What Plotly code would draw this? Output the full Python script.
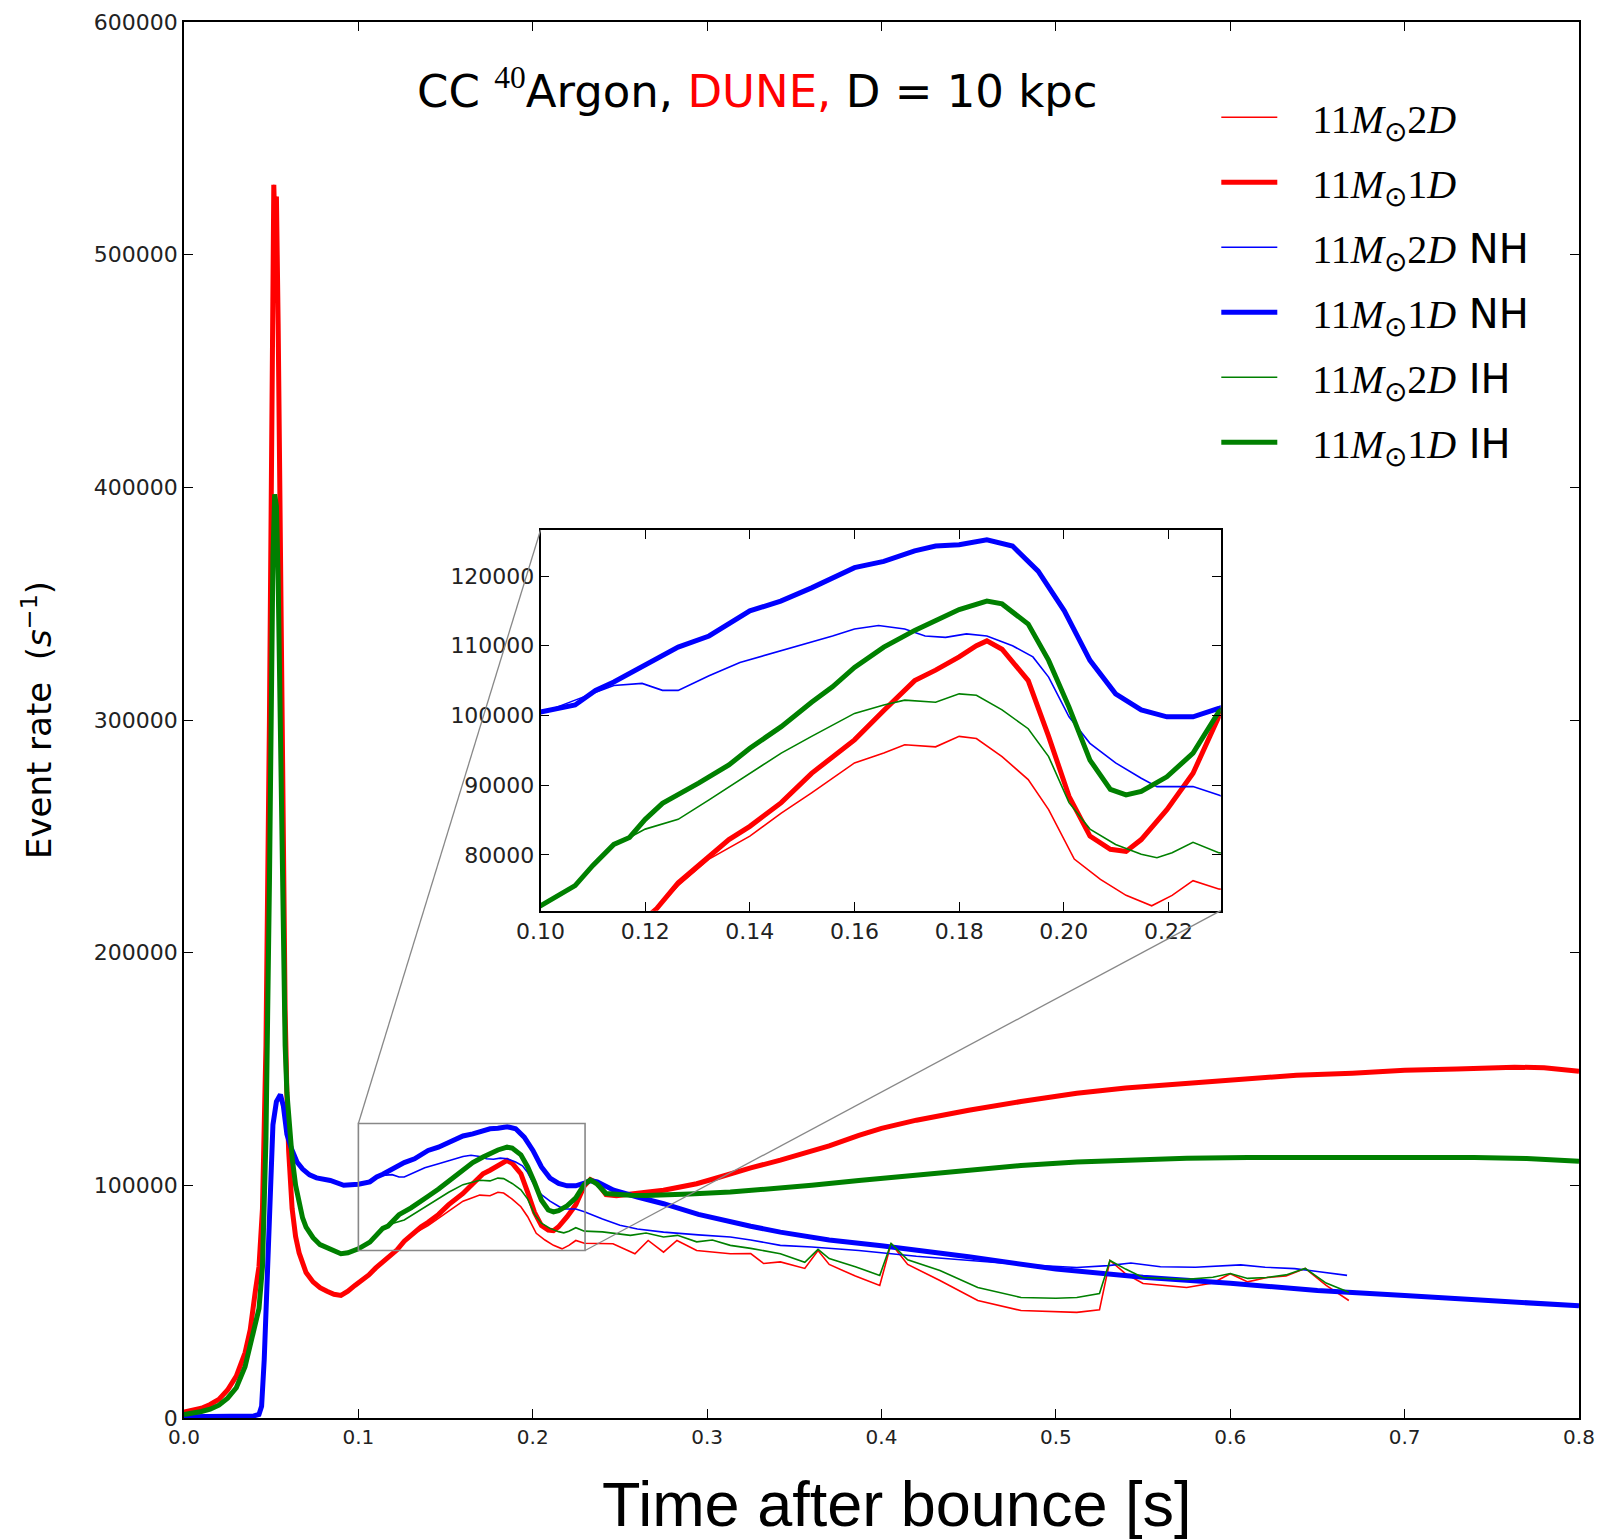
import plotly.graph_objects as go

# ---------------- data ----------------
t_red_1d = [0.000, 0.005, 0.010, 0.015, 0.020, 0.025, 0.030, 0.035, 0.038, 0.041, 0.043, 0.045, 0.047,
            0.049, 0.050, 0.051, 0.0515, 0.052, 0.053, 0.054, 0.055, 0.056, 0.057, 0.058, 0.059, 0.060,
            0.062, 0.064, 0.066, 0.068, 0.070, 0.074, 0.078, 0.082, 0.086, 0.090, 0.094, 0.098, 0.102,
            0.106, 0.110, 0.114, 0.118, 0.1222, 0.1263, 0.1322, 0.136, 0.140, 0.146, 0.1518, 0.1558,
            0.160, 0.1656, 0.1715, 0.1755, 0.180, 0.1833, 0.1853, 0.1882, 0.1932, 0.1971, 0.201, 0.205,
            0.2089, 0.2119, 0.2148, 0.2197, 0.2247, 0.2296, 0.233, 0.237, 0.242, 0.248, 0.256, 0.265,
            0.275, 0.285, 0.294, 0.303, 0.313, 0.325, 0.342, 0.356, 0.370, 0.387, 0.400, 0.420, 0.450,
            0.480, 0.512, 0.540, 0.575, 0.600, 0.638, 0.670, 0.700, 0.730, 0.763, 0.780, 0.800]
red_1d = [2500, 3200, 4200, 5800, 8000, 12000, 18000, 28000, 38000, 55000, 65000, 90000, 160000,
          300000, 420000, 510000, 530000, 515000, 525000, 470000, 380000, 300000, 230000, 175000, 140000, 115000,
          90000, 78000, 71000, 66000, 62500, 58500, 56000, 54500, 53200, 52700, 54500, 57000, 59000,
          61500, 64500, 67000, 69500, 72300, 76000, 79900, 82200, 84100, 87500, 91700, 94100,
          96500, 100700, 105000, 106500, 108400, 110000, 110700, 109500, 105000, 97000, 88400, 82700,
          80800, 80500, 82200, 86500, 91700, 99800, 102500, 101000, 96000, 95500, 96400, 97000,
          97900, 99200, 100700, 102600, 105000, 107500, 110800, 114000, 117000, 121500, 124500, 128000, 132300,
          136000, 139600, 141800, 143900, 145500, 147300, 148200, 149500, 150000, 150800, 150500, 149000]

t_red_2d = [0.000, 0.005, 0.010, 0.015, 0.020, 0.025, 0.030, 0.035, 0.038, 0.041, 0.043, 0.045, 0.047,
            0.049, 0.050, 0.051, 0.0515, 0.052, 0.053, 0.054, 0.055, 0.056, 0.057, 0.058, 0.059, 0.060,
            0.062, 0.064, 0.066, 0.068, 0.070, 0.074, 0.078, 0.082, 0.086, 0.090, 0.094, 0.098, 0.102,
            0.106, 0.110, 0.114, 0.118, 0.1222, 0.1263, 0.1322, 0.140, 0.146, 0.1518, 0.160, 0.1656,
            0.1696, 0.1755, 0.180, 0.1833, 0.1882, 0.1932, 0.1971, 0.202, 0.207, 0.2119, 0.2168, 0.2207,
            0.2247, 0.2296, 0.246, 0.2586, 0.2662, 0.275, 0.2827, 0.294, 0.3133, 0.325, 0.3324, 0.342,
            0.356, 0.3636, 0.370, 0.385, 0.399, 0.4055, 0.415, 0.4335, 0.4552, 0.480, 0.500, 0.512,
            0.525, 0.531, 0.540, 0.550, 0.575, 0.590, 0.600, 0.610, 0.621, 0.632, 0.643, 0.655, 0.668]
red_2d = [2500, 3200, 4200, 5800, 8000, 12000, 18000, 28000, 38000, 55000, 65000, 90000, 160000,
          300000, 420000, 510000, 530000, 515000, 525000, 470000, 380000, 300000, 230000, 175000, 140000, 115000,
          90000, 78000, 71000, 66000, 62500, 58500, 56000, 54500, 53200, 52700, 54500, 57000, 59000,
          61500, 64500, 67000, 69500, 72300, 75600, 79400, 82700, 86000, 88900, 93200, 94600,
          95800, 95500, 97000, 96700, 94100, 90800, 86500, 79400, 76500, 74200, 72700, 74200,
          76300, 75100, 74900, 70600, 76300, 71300, 76300, 72000, 70600, 70700, 66400, 67100,
          64300, 72000, 66000, 61000, 57000, 75000, 66000, 59100, 50500, 46200, 45500, 45400,
          46500, 67700, 62000, 57800, 56100, 58000, 62000, 58500, 60400, 61000, 64300, 57000, 50500]

t_blue_1d = [0.000, 0.010, 0.020, 0.030, 0.040, 0.043, 0.0445, 0.046, 0.0476, 0.049, 0.051, 0.053, 0.0553,
             0.057, 0.059, 0.0617, 0.0648, 0.068, 0.072, 0.076, 0.080, 0.0839, 0.0916, 0.096, 0.100,
             0.1066, 0.1105, 0.114, 0.120, 0.1263, 0.1322, 0.140, 0.1459, 0.1518, 0.160, 0.1656, 0.1715,
             0.1755, 0.180, 0.1853, 0.1902, 0.1951, 0.2001, 0.205, 0.2099, 0.2148, 0.2197, 0.2247, 0.2296,
             0.233, 0.237, 0.2464, 0.260, 0.275, 0.295, 0.3133, 0.325, 0.342, 0.370, 0.400, 0.450, 0.500,
             0.550, 0.600, 0.650, 0.700, 0.750, 0.800]
blue_1d = [500, 500, 600, 700, 900, 1500, 5000, 25000, 56000, 90000, 126000, 136000, 139000,
           134000, 122000, 115600, 110000, 107000, 104500, 103200, 102700, 102100, 100000, 100200, 100500,
           101500, 103600, 104800, 107200, 109800, 111400, 115000, 116400, 118300, 121200, 122100, 123600,
           124300, 124500, 125200, 124300, 120700, 115000, 107900, 103100, 100800, 99800, 99800, 101000,
           102000, 101500, 97900, 95000, 92100, 87500, 84200, 82400, 79900, 76500, 74000, 69300, 64000,
           60500, 57900, 54800, 52600, 50400, 48200]

t_blue_2d = [0.000, 0.010, 0.020, 0.030, 0.040, 0.043, 0.0445, 0.046, 0.0476, 0.049, 0.051, 0.053, 0.0553,
             0.057, 0.059, 0.0617, 0.0648, 0.068, 0.072, 0.076, 0.080, 0.0839, 0.0916, 0.100, 0.1066,
             0.114, 0.1194, 0.1233, 0.1263, 0.1322, 0.1381, 0.146, 0.1518, 0.1558, 0.160, 0.1646, 0.1696,
             0.1735, 0.1774, 0.1814, 0.1853, 0.1902, 0.1941, 0.1971, 0.201, 0.205, 0.2099, 0.2148, 0.2178,
             0.2247, 0.2296, 0.240, 0.250, 0.260, 0.275, 0.295, 0.3133, 0.325, 0.342, 0.360, 0.387, 0.420,
             0.450, 0.480, 0.512, 0.530, 0.543, 0.560, 0.580, 0.595, 0.606, 0.620, 0.637, 0.650, 0.667]
blue_2d = [500, 500, 600, 700, 900, 1500, 5000, 25000, 56000, 90000, 126000, 136000, 139000,
           134000, 122000, 115600, 110000, 107000, 104500, 103200, 102700, 102100, 100000, 100300, 102200,
           104300, 104600, 103600, 103600, 105700, 107600, 109300, 110500, 111400, 112400, 112900, 112400,
           111400, 111200, 111700, 111400, 110000, 108400, 105500, 99800, 96000, 93200, 91000, 89800,
           89800, 88600, 85500, 82800, 81200, 79900, 78700, 77800, 76500, 74200, 73500, 72000, 69500,
           67700, 66000, 64700, 65500, 66600, 65000, 64800, 65200, 65800, 64800, 64200, 63000, 61300]

t_green_1d = [0.000, 0.005, 0.010, 0.015, 0.020, 0.025, 0.030, 0.035, 0.038, 0.041, 0.043, 0.045, 0.047,
              0.049, 0.050, 0.051, 0.052, 0.053, 0.054, 0.055, 0.056, 0.057, 0.058, 0.059, 0.060, 0.062,
              0.064, 0.066, 0.068, 0.070, 0.074, 0.078, 0.082, 0.086, 0.090, 0.094, 0.098, 0.100, 0.1066,
              0.110, 0.114, 0.117, 0.120, 0.1233, 0.1302, 0.136, 0.140, 0.146, 0.1518, 0.1558, 0.160,
              0.1656, 0.1715, 0.1755, 0.180, 0.1853, 0.1882, 0.1932, 0.1971, 0.201, 0.205, 0.2089, 0.2119,
              0.2148, 0.2197, 0.2247, 0.2296, 0.233, 0.237, 0.242, 0.250, 0.256, 0.265, 0.275, 0.290,
              0.3133, 0.325, 0.342, 0.360, 0.387, 0.420, 0.450, 0.480, 0.512, 0.545, 0.575, 0.610, 0.638,
              0.670, 0.700, 0.740, 0.770, 0.800]
green_1d = [1500, 2000, 2800, 3800, 5500, 8500, 13000, 22000, 32000, 42000, 47000, 65000, 120000,
            230000, 310000, 370000, 397000, 392000, 360000, 300000, 240000, 190000, 160000, 140000, 128000, 112000,
            100000, 92000, 86000, 82000, 77500, 74500, 73000, 71500, 70600, 71000, 72000, 72700, 75600,
            78500, 81500, 82500, 85100, 87400, 90300, 92900, 95300, 98400, 101900, 104100, 106900,
            109800, 112200, 113600, 115200, 116400, 116000, 113100, 107900, 101200, 93600, 89400, 88600,
            89100, 91200, 94600, 100500, 102300, 100500, 96500, 95800, 95700, 95600, 95700, 96300,
            97100, 97800, 98600, 100000, 102100, 104500, 106500, 108500, 110000, 111000, 111600, 112000, 112000,
            112300, 112000, 112000, 111500, 110300]

t_green_2d = [0.000, 0.005, 0.010, 0.015, 0.020, 0.025, 0.030, 0.035, 0.038, 0.041, 0.043, 0.045, 0.047,
              0.049, 0.050, 0.051, 0.052, 0.053, 0.054, 0.055, 0.056, 0.057, 0.058, 0.059, 0.060, 0.062,
              0.064, 0.066, 0.068, 0.070, 0.074, 0.078, 0.082, 0.086, 0.090, 0.094, 0.098, 0.100, 0.1066,
              0.110, 0.114, 0.117, 0.120, 0.1263, 0.1322, 0.140, 0.146, 0.1518, 0.160, 0.1656, 0.1696,
              0.1755, 0.180, 0.1833, 0.1882, 0.1932, 0.1971, 0.201, 0.205, 0.2099, 0.2148, 0.2178, 0.2207,
              0.2247, 0.2296, 0.240, 0.256, 0.265, 0.275, 0.283, 0.294, 0.303, 0.3133, 0.325, 0.342,
              0.356, 0.3636, 0.370, 0.385, 0.399, 0.4055, 0.415, 0.4335, 0.4552, 0.480, 0.500, 0.512,
              0.525, 0.531, 0.540, 0.550, 0.575, 0.590, 0.600, 0.610, 0.621, 0.632, 0.643, 0.655, 0.668]
green_2d = [1500, 2000, 2800, 3800, 5500, 8500, 13000, 22000, 32000, 42000, 47000, 65000, 120000,
            230000, 310000, 370000, 397000, 392000, 360000, 300000, 240000, 190000, 160000, 140000, 128000, 112000,
            100000, 92000, 86000, 82000, 77500, 74500, 73000, 71500, 70600, 71000, 72000, 72700, 75600,
            78500, 81500, 82500, 83700, 85100, 87900, 91700, 94600, 97000, 100300, 101500, 102200,
            101900, 103100, 102900, 100800, 98100, 94100, 87500, 83700, 81500, 80100, 79600, 80300,
            81800, 80300, 80000, 78500, 79500, 77800, 78500, 75700, 76500, 74200, 72900, 70600,
            66900, 72500, 68500, 65000, 61300, 75000, 68000, 63400, 56100, 51800, 51500, 51800,
            53500, 67700, 64000, 60400, 59600, 60500, 62100, 60000, 60400, 61500, 64300, 58000, 54000]

NB = "\u00a0\u00a0\u00a0"
series_names = [NB + "11<i>M</i><sub>⊙</sub>2<i>D</i>",
                NB + "11<i>M</i><sub>⊙</sub>1<i>D</i>",
                NB + "11<i>M</i><sub>⊙</sub>2<i>D</i><span style='font-family:DejaVu Sans'> NH</span>",
                NB + "11<i>M</i><sub>⊙</sub>1<i>D</i><span style='font-family:DejaVu Sans'> NH</span>",
                NB + "11<i>M</i><sub>⊙</sub>2<i>D</i><span style='font-family:DejaVu Sans'> IH</span>",
                NB + "11<i>M</i><sub>⊙</sub>1<i>D</i><span style='font-family:DejaVu Sans'> IH</span>"]
x_ticks_main = [0.0, 0.1, 0.2, 0.3, 0.4, 0.5, 0.6, 0.7, 0.8]
y_ticks_main = [0, 100000, 200000, 300000, 400000, 500000, 600000]
x_ticks_inset = [0.10, 0.12, 0.14, 0.16, 0.18, 0.20, 0.22]
y_ticks_inset = [80000, 90000, 100000, 110000, 120000]

# ---------------- styling / layout ----------------
RED, BLUE, GREEN = "#ff0000", "#0000ff", "#008000"
THIN, THICK = 1.6, 5

main_xr = [0, 0.8]
main_yr = [0, 600000]
ins_xr = [0.10, 0.23]
ins_yr = [72000, 126600]
ins_dom_x = [0.2556, 0.7432]
ins_dom_y = [0.3634, 0.6361]

series = [
    (t_red_2d, red_2d, RED, THIN),
    (t_red_1d, red_1d, RED, THICK),
    (t_blue_2d, blue_2d, BLUE, THIN),
    (t_blue_1d, blue_1d, BLUE, THICK),
    (t_green_2d, green_2d, GREEN, THIN),
    (t_green_1d, green_1d, GREEN, THICK),
]

fig = go.Figure()
for i, (tt, vv, col, w) in enumerate(series):
    fig.add_trace(go.Scatter(x=tt, y=vv, mode="lines", name=series_names[i],
                             line=dict(color=col, width=w), legendgroup=f"g{i}",
                             xaxis="x", yaxis="y"))
for i, (tt, vv, col, w) in enumerate(series):
    fig.add_trace(go.Scatter(x=tt, y=vv, mode="lines", name=series_names[i],
                             line=dict(color=col, width=w), legendgroup=f"g{i}",
                             showlegend=False, xaxis="x2", yaxis="y2"))

axis_common = dict(showline=True, linecolor="black", linewidth=1.6, mirror="ticks",
                   ticks="inside", ticklen=9, tickcolor="black", tickwidth=1,
                   showgrid=False, zeroline=False, automargin=False)

fig.update_layout(
    width=1599, height=1539,
    margin=dict(l=184, r=20, t=22, b=121, autoexpand=False),
    paper_bgcolor="white", plot_bgcolor="white",
    xaxis=dict(range=main_xr, domain=[0, 1], tickvals=x_ticks_main, tickformat=".1f",
               tickfont=dict(family="DejaVu Sans", size=20, color="#222"),
               **axis_common),
    yaxis=dict(range=main_yr, domain=[0, 1], tickvals=y_ticks_main, tickformat="d",
               tickfont=dict(family="DejaVu Sans", size=22, color="#222"),
               title=dict(text="Event rate  (<i>s</i><sup>−1</sup>)",
                          font=dict(family="DejaVu Sans", size=34, color="black"),
                          standoff=32),
               **axis_common),
    xaxis2=dict(range=ins_xr, domain=ins_dom_x, anchor="y2", tickvals=x_ticks_inset, tickformat=".2f",
                tickfont=dict(family="DejaVu Sans", size=22, color="#222"), **axis_common),
    yaxis2=dict(range=ins_yr, domain=ins_dom_y, anchor="x2", tickvals=y_ticks_inset, tickformat="d",
                tickfont=dict(family="DejaVu Sans", size=22, color="#222"), **axis_common),
    legend=dict(x=0.740, y=0.955, xanchor="left", yanchor="top",
                bgcolor="rgba(0,0,0,0)", borderwidth=0,
                font=dict(family="Liberation Serif", size=40, color="black"),
                tracegroupgap=10, itemwidth=56),
    showlegend=True,
)

# x-axis title (placed as in the reference, slightly right of centre)
fig.add_annotation(x=0.511, y=-0.0616, xref="paper", yref="paper", showarrow=False,
                   text="Time after bounce [s]", xanchor="center", yanchor="middle",
                   font=dict(family="Liberation Sans", size=63, color="black"))

# title text
fig.add_annotation(
    x=0.411, y=0.952, xref="paper", yref="paper", showarrow=False,
    text="CC <sup><span style='font-family:Liberation Serif'>40</span></sup>Argon, "
         "<span style='color:#ff0000'>DUNE,</span> D = 10 kpc",
    font=dict(family="DejaVu Sans", size=45, color="black"), xanchor="center", yanchor="middle")

# zoom box and connectors
gray = "#888888"
fig.add_shape(type="rect", xref="x", yref="y", x0=ins_xr[0], x1=ins_xr[1], y0=ins_yr[0], y1=ins_yr[1],
              line=dict(color=gray, width=1.6))
def px(v):
    return (v - main_xr[0]) / (main_xr[1] - main_xr[0])
def py(v):
    return (v - main_yr[0]) / (main_yr[1] - main_yr[0])
fig.add_shape(type="line", xref="paper", yref="paper",
              x0=px(ins_xr[0]), y0=py(ins_yr[1]), x1=ins_dom_x[0], y1=ins_dom_y[1],
              line=dict(color=gray, width=1.3))
fig.add_shape(type="line", xref="paper", yref="paper",
              x0=px(ins_xr[1]), y0=py(ins_yr[0]), x1=ins_dom_x[1], y1=ins_dom_y[0],
              line=dict(color=gray, width=1.3))

fig.write_html("out.html")
